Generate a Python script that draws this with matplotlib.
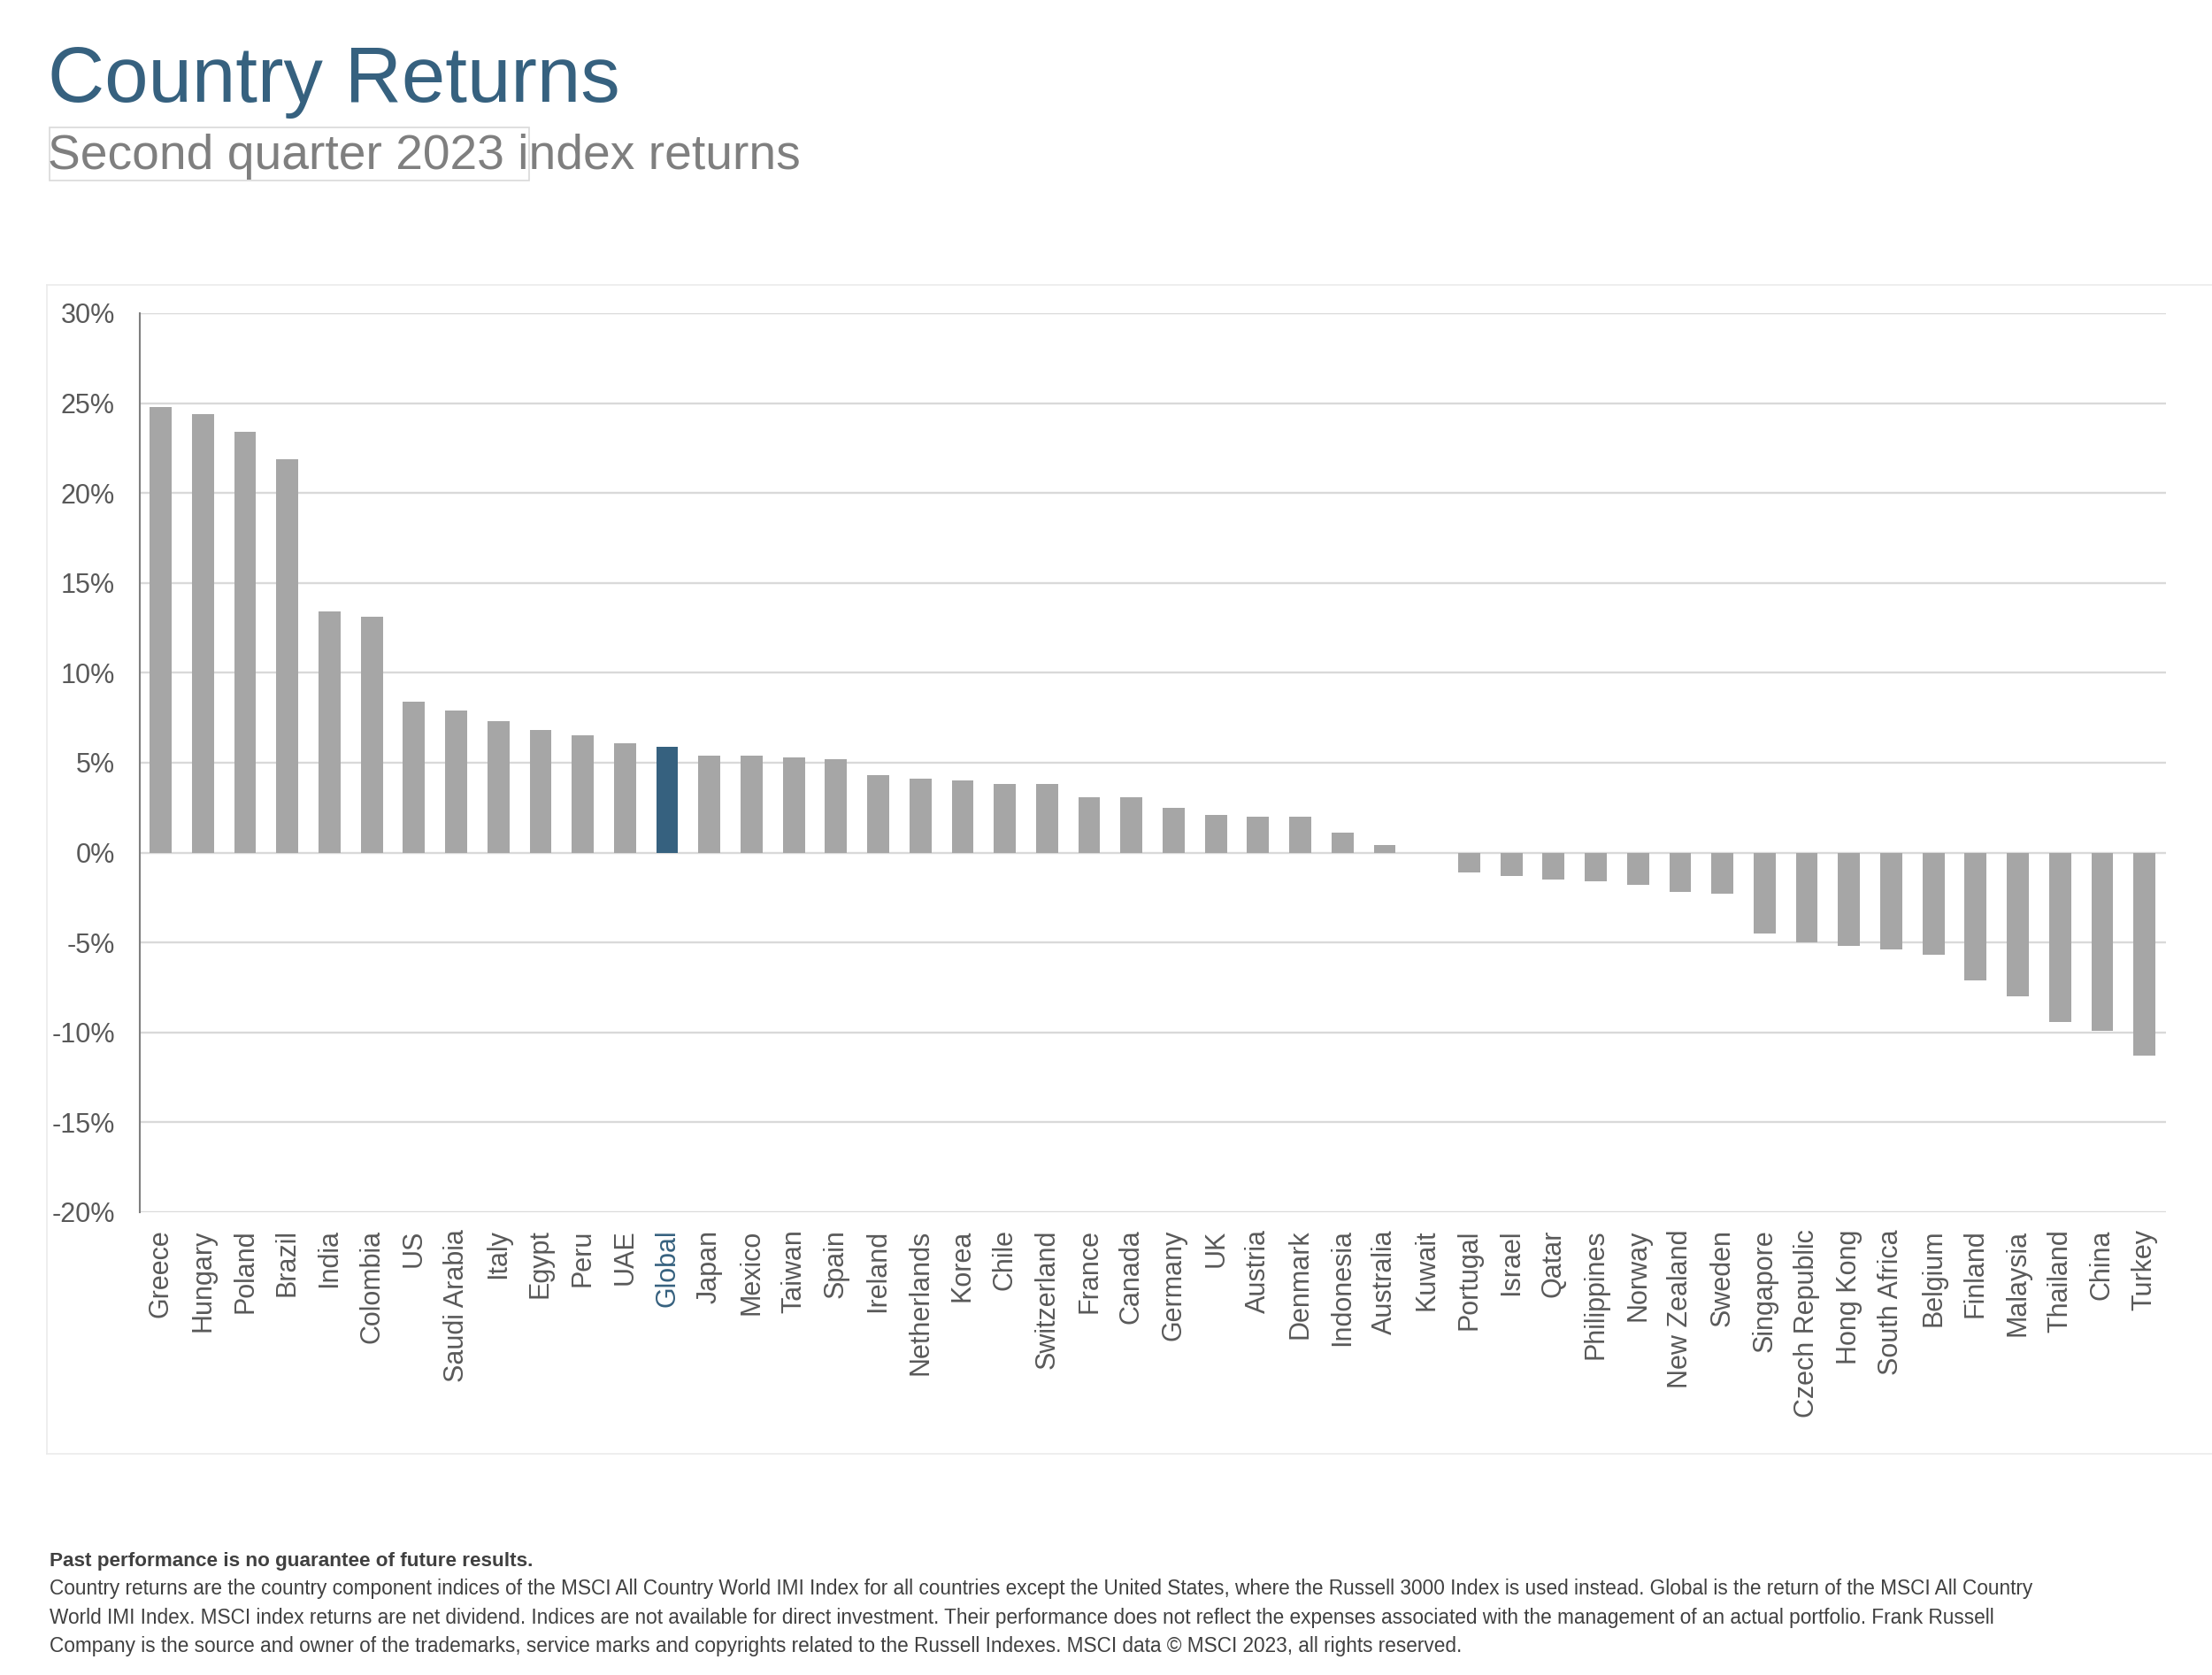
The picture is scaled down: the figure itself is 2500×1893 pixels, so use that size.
import matplotlib
matplotlib.use('Agg')
import matplotlib.pyplot as plt
from matplotlib.patches import Rectangle
from matplotlib.lines import Line2D
from matplotlib.ticker import FuncFormatter

# data (Q2 2023 index returns, %)
countries = ['Greece', 'Hungary', 'Poland', 'Brazil', 'India', 'Colombia', 'US',
             'Saudi Arabia', 'Italy', 'Egypt', 'Peru', 'UAE', 'Global', 'Japan',
             'Mexico', 'Taiwan', 'Spain', 'Ireland', 'Netherlands', 'Korea', 'Chile',
             'Switzerland', 'France', 'Canada', 'Germany', 'UK', 'Austria', 'Denmark',
             'Indonesia', 'Australia', 'Kuwait', 'Portugal', 'Israel', 'Qatar',
             'Philippines', 'Norway', 'New Zealand', 'Sweden', 'Singapore',
             'Czech Republic', 'Hong Kong', 'South Africa', 'Belgium', 'Finland',
             'Malaysia', 'Thailand', 'China', 'Turkey']
returns = [24.8, 24.4, 23.4, 21.9, 13.4, 13.1, 8.4,
           7.9, 7.3, 6.8, 6.5, 6.1, 5.9, 5.4,
           5.4, 5.3, 5.2, 4.3, 4.1, 4.0, 3.8,
           3.8, 3.1, 3.1, 2.5, 2.1, 2.0, 2.0,
           1.1, 0.4, 0.0, -1.1, -1.3, -1.5,
           -1.6, -1.8, -2.2, -2.3, -4.5,
           -5.0, -5.2, -5.4, -5.7, -7.1,
           -8.0, -9.4, -9.9, -11.3]
highlight = 'Global'
y_ticks = [-20, -15, -10, -5, 0, 5, 10, 15, 20, 25, 30]

title = 'Country Returns'
subtitle = 'Second quarter 2023 index returns'
note_bold = 'Past performance is no guarantee of future results.'
note_lines = [
    'Country returns are the country component indices of the MSCI All Country World IMI Index for all countries except the United States, where the Russell 3000 Index is used instead. Global is the return of the MSCI All Country',
    'World IMI Index. MSCI index returns are net dividend. Indices are not available for direct investment. Their performance does not reflect the expenses associated with the management of an actual portfolio. Frank Russell',
    'Company is the source and owner of the trademarks, service marks and copyrights related to the Russell Indexes. MSCI data \u00a9 MSCI 2023, all rights reserved.',
]

BLUE = '#36617f'
GREY_BAR = '#a6a6a6'
TXT = '#595959'

plt.rcParams['font.family'] = ['Liberation Sans', 'DejaVu Sans']

fig = plt.figure(figsize=(25, 18.93), dpi=100, facecolor='white')

# outer chart frame (left, top, bottom only)
frame_c = '#ebebeb'
fig.add_artist(Line2D([0.021, 0.021], [0.132, 0.830], color=frame_c, lw=1.2, transform=fig.transFigure))
fig.add_artist(Line2D([0.021, 1.0], [0.830, 0.830], color=frame_c, lw=1.2, transform=fig.transFigure))
fig.add_artist(Line2D([0.021, 1.0], [0.132, 0.132], color=frame_c, lw=1.2, transform=fig.transFigure))

# title / subtitle
fig.text(0.0215, 0.939, title, fontsize=64, color=BLUE, va='baseline', ha='left')
fig.text(0.0215, 0.899, subtitle, fontsize=39.7, color='#7f7f7f', va='baseline', ha='left')
fig.add_artist(Rectangle((0.0223, 0.892), 0.2167, 0.032, transform=fig.transFigure,
                         fill=False, edgecolor='#d9d9d9', lw=1.2))

# bar chart
ax = fig.add_axes([0.0631, 0.2763, 0.9159, 0.5367])
x = list(range(len(countries)))
colors = [BLUE if c == highlight else GREY_BAR for c in countries]
ax.bar(x, returns, width=0.52, color=colors, zorder=3)

ax.set_xlim(-0.5, len(countries) - 0.5)
ax.set_ylim(-20, 30)
ax.set_yticks(y_ticks)
ax.yaxis.set_major_formatter(FuncFormatter(lambda v, p: '%d%%' % v))
ax.grid(axis='y', color='#d9d9d9', lw=1.7, zorder=0)
ax.set_axisbelow(True)

for s in ['top', 'right', 'bottom']:
    ax.spines[s].set_visible(False)
ax.spines['left'].set_color('#7f7f7f')
ax.spines['left'].set_linewidth(1.5)

ax.set_xticks(x)
ax.set_xticklabels(countries, rotation=90, fontsize=22, color=TXT)
ax.tick_params(axis='x', length=0, pad=14)
ax.tick_params(axis='y', length=0, pad=20, labelsize=22, labelcolor=TXT)
for lbl in ax.get_xticklabels():
    if lbl.get_text() == highlight:
        lbl.set_color(BLUE)

# footnote
fig.text(0.0223, 0.0649, note_bold, fontsize=16.2, fontweight='bold', color='#404040', va='baseline')
for i, line in enumerate(note_lines):
    fig.text(0.0223, 0.048 - i * 0.0172, line, fontsize=16.3, color='#404040', va='baseline')

fig.savefig('out.png', dpi=100, facecolor='white')
